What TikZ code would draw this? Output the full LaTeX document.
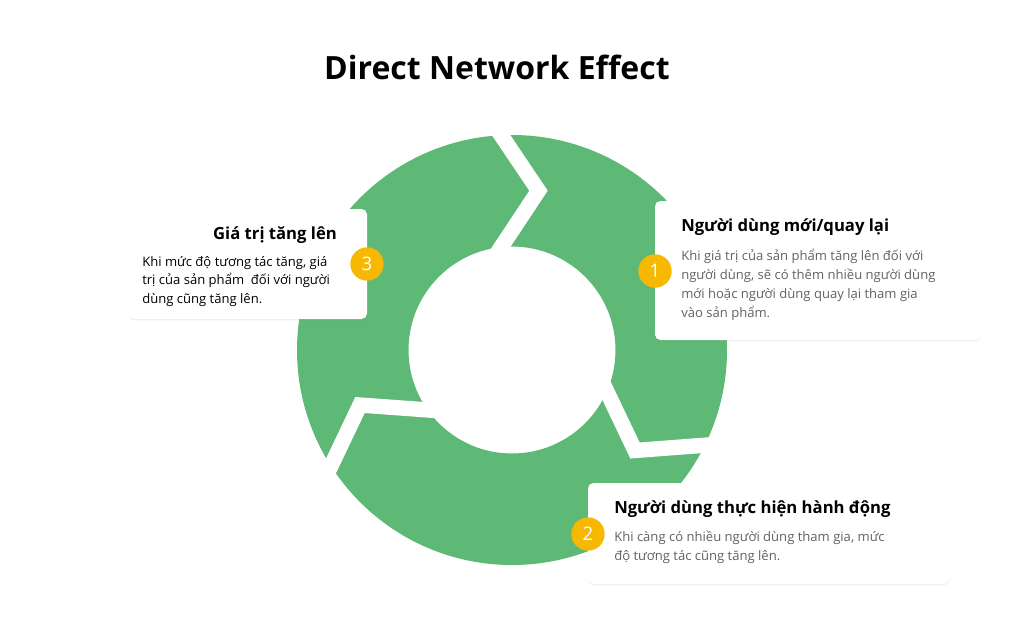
\documentclass[tikz,border=0pt]{standalone}
\usepackage{fontspec}
\setmainfont{Open Sans}
\usetikzlibrary{shadows}
\definecolor{ringgreen}{HTML}{5DB975}
\definecolor{badge}{HTML}{F7B801}
\definecolor{bodygray}{HTML}{5F6368}
\tikzset{
  card/.style={fill=white,rounded corners=4pt,drop shadow={opacity=0.12,shadow xshift=0pt,shadow yshift=-1pt}},
  gap/.style={white,line width=11.5pt,miter limit=10,line join=miter},
  badgec/.style={circle,fill=badge,minimum size=25pt,inner sep=0pt,text=white,font=\fontsize{14}{14}\selectfont},
  head/.style={anchor=west,inner sep=0pt,font=\fontsize{12.5}{15}\selectfont\bfseries\mdseries},
  body/.style={anchor=north west,inner sep=0pt,align=left,font=\fontsize{9.8}{14}\selectfont}
}
\begin{document}
\begin{tikzpicture}[x=0.75pt,y=-0.75pt]
\useasboundingbox[fill=white] (0,0) rectangle (1024,633);
\node[inner sep=0pt,font=\fontsize{24}{28}\selectfont\bfseries] (title) at (497,67) {Direct Network Effect};
% ring
\fill[ringgreen,even odd rule] (512,350) circle[radius=215] (512,350) circle[radius=103.5];
\draw[gap] (464,80) -- (538.5,190.7) -- (480,279);
\draw[gap] (590,356) -- (635,450.5) -- (760,441);
\draw[gap] (470,413) -- (360,405) -- (310,510);
% cards
\fill[card] (129,209) rectangle (367,319);
\fill[card] (655,201) rectangle (981,340);
\fill[card] (588,483) rectangle (949,584);
% texts
\node[head,anchor=center,font=\fontsize{12.5}{15}\selectfont\bfseries] (h3) at (275,235) {Giá trị tăng lên};
\node[body] (b3) at (142,256) {Khi mức độ tương tác tăng, giá\\trị của sản phẩm\ \ đối với người\\dùng cũng tăng lên.};
\node[head,font=\fontsize{12.5}{15}\selectfont\bfseries] (h1) at (681,227) {Người dùng mới/quay lại};
\node[body,text=bodygray,font=\fontsize{9.8}{14.2}\selectfont] (b1) at (681,249) {Khi giá trị của sản phẩm tăng lên đối với\\người dùng, sẽ có thêm nhiều người dùng\\mới hoặc người dùng quay lại tham gia\\vào sản phẩm.};
\node[head,font=\fontsize{12.5}{15}\selectfont\bfseries] (h2) at (614,509) {Người dùng thực hiện hành động};
\node[body,text=bodygray] (b2) at (614,531) {Khi càng có nhiều người dùng tham gia, mức\\độ tương tác cũng tăng lên.};
% badges
\node[badgec] (n3) at (367,264) {3};
\node[badgec] (n1) at (655,271) {1};
\node[badgec] (n2) at (588,534) {2};
\end{tikzpicture}
\end{document}
